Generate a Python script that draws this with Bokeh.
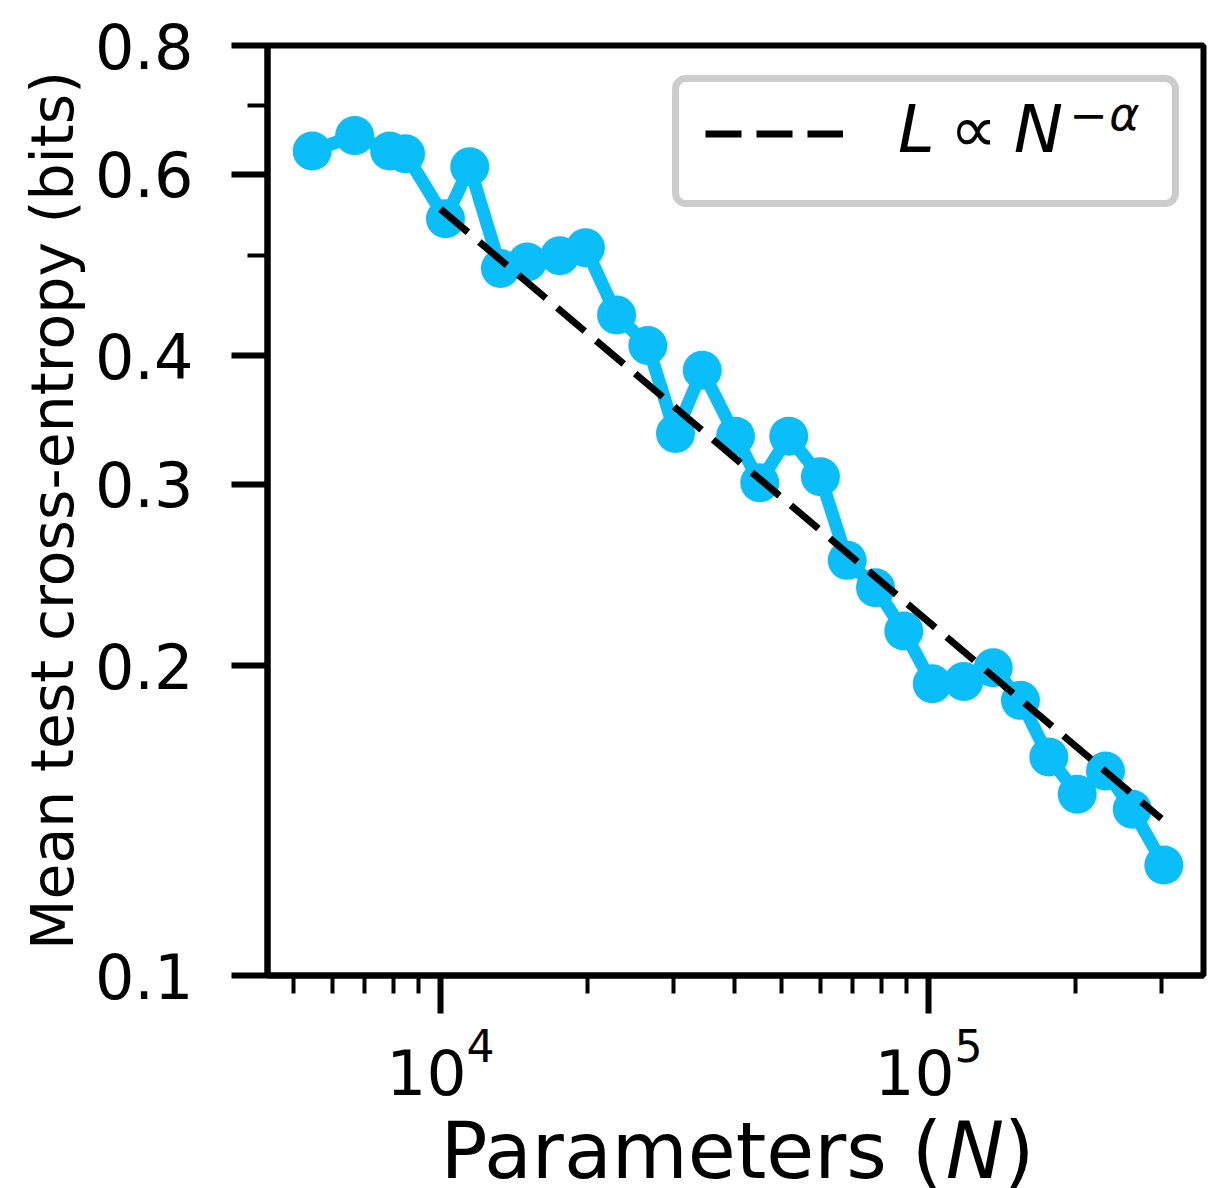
from bokeh.plotting import figure
from bokeh.layouts import column
from bokeh.models import (FixedTicker, PrintfTickFormatter, Label, Legend,
                          LegendItem, LogTickFormatter, Range1d)
from bokeh.embed import file_html
from bokeh.resources import INLINE

# Mean test cross-entropy (bits) against parameter count N
params = [5460, 6670, 7870, 8480, 10240, 11480, 13270, 15060, 17560, 19820,
          22950, 26600, 30310, 34390, 40230, 45110, 51720, 60060, 68140, 77880,
          89000, 101800, 118100, 135700, 154300, 176400, 201700, 230500, 261500, 303500]
loss = [0.632, 0.654, 0.632, 0.628, 0.543, 0.610, 0.486, 0.493, 0.500, 0.509,
        0.438, 0.409, 0.336, 0.387, 0.334, 0.301, 0.334, 0.305, 0.253, 0.238,
        0.216, 0.192, 0.193, 0.199, 0.185, 0.163, 0.150, 0.158, 0.145, 0.128]

# power-law fit L ~ N^-alpha (alpha ~ 0.4), drawn between its end points
fit_params = [1.0e4, 3.0e5]
fit_loss = [0.555, 0.142]

# ticks
x_major = [1e4, 1e5]
x_minor = [5e3, 6e3, 7e3, 8e3, 9e3,
           2e4, 3e4, 4e4, 5e4, 6e4, 7e4, 8e4, 9e4,
           2e5, 3e5]
y_major = [0.1, 0.2, 0.3, 0.4, 0.6, 0.8]
y_minor = [0.5, 0.7]

X_START, X_END = 4422, 366000
Y_START, Y_END = 0.1, 0.8

BLUE = "#0ABEF9"
FONT = "DejaVu Sans"
W = 1210
MAIN_H = 1108
TITLE_H = 80
LEFT, RIGHT = 267, 7          # borders around the plotting frame
BASE_SHIFT = 0.39             # alphabetic baseline correction, in em

p = figure(width=W, height=MAIN_H,
           x_axis_type="log", y_axis_type="log",
           x_range=(X_START, X_END), y_range=(Y_START, Y_END),
           output_backend="svg", toolbar_location=None,
           min_border_left=LEFT, min_border_right=RIGHT,
           min_border_top=45, min_border_bottom=MAIN_H - 975)

p.xgrid.visible = False
p.ygrid.visible = False
p.outline_line_color = "black"
p.outline_line_width = 6
p.outline_line_alpha = 1.0
p.background_fill_color = "white"
p.border_fill_color = "white"

# x axis
xa = p.xaxis[0]
xa.ticker = FixedTicker(ticks=x_major, minor_ticks=x_minor)
xa.formatter = LogTickFormatter()
xa.axis_line_width = 6
xa.major_tick_out = 38
xa.major_tick_in = 0
xa.minor_tick_out = 18
xa.minor_tick_in = 0
xa.major_tick_line_width = 6
xa.minor_tick_line_width = 4
xa.major_label_standoff = 13
xa.major_label_text_font = FONT
xa.major_label_text_font_size = "63px"
xa.major_label_text_color = "black"

# y axis
ya = p.yaxis[0]
ya.ticker = FixedTicker(ticks=y_major, minor_ticks=y_minor)
ya.formatter = PrintfTickFormatter(format="%.1f")
ya.axis_line_width = 6
ya.major_tick_out = 36
ya.major_tick_in = 0
ya.minor_tick_out = 20
ya.minor_tick_in = 0
ya.major_tick_line_width = 6
ya.minor_tick_line_width = 4
ya.major_label_standoff = 38
ya.major_label_text_font = FONT
ya.major_label_text_font_size = "62px"
ya.major_label_text_color = "black"
ya.axis_label = "Mean test cross-entropy (bits)"
ya.axis_label_text_font = FONT
ya.axis_label_text_font_size = "58.5px"
ya.axis_label_text_font_style = "normal"
ya.axis_label_text_color = "black"
ya.axis_label_standoff = 5

# data and fit
p.line(params, loss, line_color=BLUE, line_width=13)
p.scatter(params, loss, size=39, fill_color=BLUE, line_color=None)
fit_r = p.line(fit_params, fit_loss, line_color="black", line_width=7,
               line_dash="36 15")

# legend frame and sample; its text is set separately below (mixed italics).
# A blank title underneath leaves the extra room below the sample line.
legend_kw = dict(border_line_color="#cccccc", border_line_width=7,
                 border_line_alpha=1.0,
                 background_fill_color="white", background_fill_alpha=0.0,
                 padding=26, margin=0, spacing=0,
                 glyph_width=138, glyph_height=51,
                 label_width=243, label_height=51, label_standoff=60,
                 label_text_font_size="10px",
                 title=" ", title_location="below", title_standoff=4,
                 title_text_font_size="10px")
if "border_radius" in Legend.properties():
    legend_kw["border_radius"] = 14
legend = Legend(items=[LegendItem(label=" ", renderers=[fit_r])],
                location=(404.5, 768.5), **legend_kw)
p.add_layout(legend)


def text_at(fig, text, x, y, dx, dy, size, style="normal", align="left"):
    """Place text with its alphabetic baseline dy pixels from (x, y)."""
    fig.add_layout(Label(x=x, y=y, x_offset=dx,
                         y_offset=dy + BASE_SHIFT * size, text=text,
                         text_font=FONT, text_font_size=f"{size}px",
                         text_font_style=style, text_color="black",
                         text_align=align, text_baseline="alphabetic"))


# legend entry text: L ∝ N^{-α}
text_at(p, "L", X_END, Y_END, -287, -110, 66, "italic", "center")
text_at(p, "\u221d", X_END, Y_END, -230, -110, 66, "normal", "center")
text_at(p, "N", X_END, Y_END, -165, -110, 66, "italic", "center")
text_at(p, "\u2212", X_END, Y_END, -115, -86, 46, "normal", "center")
text_at(p, "\u03b1", X_END, Y_END, -79, -86, 46, "italic", "center")

# x axis title "Parameters (N)" on its own strip under the axes;
# the strip's data units are canvas pixels
t = figure(width=W, height=TITLE_H,
           x_range=Range1d(LEFT, W - RIGHT), y_range=Range1d(0, TITLE_H),
           output_backend="svg", toolbar_location=None,
           x_axis_location=None, y_axis_location=None,
           min_border_left=LEFT, min_border_right=RIGHT,
           min_border_top=0, min_border_bottom=0)
t.xgrid.visible = False
t.ygrid.visible = False
t.outline_line_color = None
t.background_fill_color = "white"
t.border_fill_color = "white"

XL_SIZE = 78
em_head = 6.476    # advance of "Parameters (" in em
em_n = 0.748       # advance of italic "N"
x0 = 440
base = MAIN_H + TITLE_H - 1181
text_at(t, "Parameters (", x0, base, 0, 0, XL_SIZE)
text_at(t, "N", x0 + em_head * XL_SIZE, base, 0, 0, XL_SIZE, "italic")
text_at(t, ")", x0 + (em_head + em_n) * XL_SIZE, base, 0, 0, XL_SIZE)

layout = column(p, t, spacing=0)
open("out.html", "w").write(file_html(layout, INLINE))
